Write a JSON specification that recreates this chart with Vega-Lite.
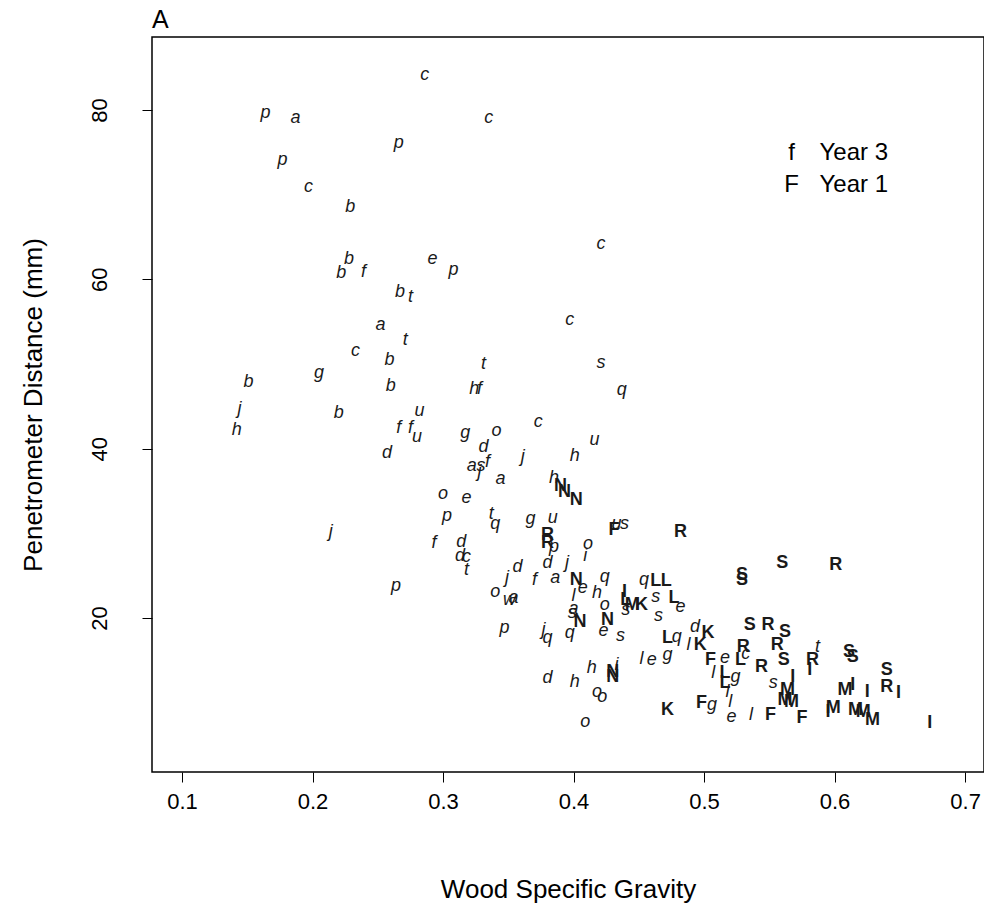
{
  "$schema": "https://vega.github.io/schema/vega-lite/v6.json",
  "autosize": {"type": "none"},
  "padding": {"left": 152, "top": 37, "right": 0, "bottom": 142},
  "width": 832,
  "height": 735,
  "background": "white",
  "title": {"text": "A", "anchor": "start", "frame": "group", "fontSize": 25, "fontWeight": "normal", "font": "Liberation Sans", "color": "black", "offset": 4},
  "config": {
    "view": {"stroke": "black", "strokeWidth": 1.5},
    "axis": {"grid": false, "domain": false, "tickColor": "black", "tickSize": 10, "tickWidth": 1, "labelFont": "Liberation Sans", "labelFontSize": 22, "labelColor": "black", "titleFont": "Liberation Sans", "titleFontSize": 26, "titleFontWeight": "normal", "titleColor": "black"}
  },
  "datasets": {
    "pts": [
      {"wsg": 0.286, "pen": 84.1, "label": "c", "year": 3},
      {"wsg": 0.164, "pen": 79.6, "label": "p", "year": 3},
      {"wsg": 0.187, "pen": 79.1, "label": "a", "year": 3},
      {"wsg": 0.335, "pen": 79.1, "label": "c", "year": 3},
      {"wsg": 0.266, "pen": 76.1, "label": "p", "year": 3},
      {"wsg": 0.177, "pen": 74.1, "label": "p", "year": 3},
      {"wsg": 0.197, "pen": 70.9, "label": "c", "year": 3},
      {"wsg": 0.229, "pen": 68.5, "label": "b", "year": 3},
      {"wsg": 0.421, "pen": 64.2, "label": "c", "year": 3},
      {"wsg": 0.228, "pen": 62.4, "label": "b", "year": 3},
      {"wsg": 0.222, "pen": 60.7, "label": "b", "year": 3},
      {"wsg": 0.239, "pen": 60.9, "label": "f", "year": 3},
      {"wsg": 0.292, "pen": 62.4, "label": "e", "year": 3},
      {"wsg": 0.308, "pen": 61.1, "label": "p", "year": 3},
      {"wsg": 0.267, "pen": 58.5, "label": "b", "year": 3},
      {"wsg": 0.275, "pen": 57.9, "label": "t", "year": 3},
      {"wsg": 0.397, "pen": 55.2, "label": "c", "year": 3},
      {"wsg": 0.252, "pen": 54.6, "label": "a", "year": 3},
      {"wsg": 0.271, "pen": 52.8, "label": "t", "year": 3},
      {"wsg": 0.233, "pen": 51.5, "label": "c", "year": 3},
      {"wsg": 0.259, "pen": 50.5, "label": "b", "year": 3},
      {"wsg": 0.331, "pen": 50.0, "label": "t", "year": 3},
      {"wsg": 0.421, "pen": 50.1, "label": "s", "year": 3},
      {"wsg": 0.205, "pen": 48.9, "label": "g", "year": 3},
      {"wsg": 0.151, "pen": 47.9, "label": "b", "year": 3},
      {"wsg": 0.260, "pen": 47.4, "label": "b", "year": 3},
      {"wsg": 0.324, "pen": 47.0, "label": "h", "year": 3},
      {"wsg": 0.328, "pen": 47.0, "label": "f", "year": 3},
      {"wsg": 0.437, "pen": 46.9, "label": "q", "year": 3},
      {"wsg": 0.144, "pen": 44.7, "label": "j", "year": 3},
      {"wsg": 0.282, "pen": 44.5, "label": "u", "year": 3},
      {"wsg": 0.220, "pen": 44.2, "label": "b", "year": 3},
      {"wsg": 0.142, "pen": 42.2, "label": "h", "year": 3},
      {"wsg": 0.266, "pen": 42.4, "label": "f", "year": 3},
      {"wsg": 0.275, "pen": 42.4, "label": "f", "year": 3},
      {"wsg": 0.280, "pen": 41.4, "label": "u", "year": 3},
      {"wsg": 0.373, "pen": 43.2, "label": "c", "year": 3},
      {"wsg": 0.317, "pen": 41.9, "label": "g", "year": 3},
      {"wsg": 0.341, "pen": 42.1, "label": "o", "year": 3},
      {"wsg": 0.416, "pen": 41.0, "label": "u", "year": 3},
      {"wsg": 0.257, "pen": 39.5, "label": "d", "year": 3},
      {"wsg": 0.331, "pen": 40.2, "label": "d", "year": 3},
      {"wsg": 0.401, "pen": 39.1, "label": "h", "year": 3},
      {"wsg": 0.361, "pen": 39.0, "label": "j", "year": 3},
      {"wsg": 0.322, "pen": 38.0, "label": "a", "year": 3},
      {"wsg": 0.329, "pen": 38.0, "label": "s", "year": 3},
      {"wsg": 0.334, "pen": 38.4, "label": "f", "year": 3},
      {"wsg": 0.328, "pen": 37.2, "label": "j", "year": 3},
      {"wsg": 0.344, "pen": 36.4, "label": "a", "year": 3},
      {"wsg": 0.385, "pen": 36.5, "label": "h", "year": 3},
      {"wsg": 0.300, "pen": 34.6, "label": "o", "year": 3},
      {"wsg": 0.318, "pen": 34.2, "label": "e", "year": 3},
      {"wsg": 0.303, "pen": 32.0, "label": "p", "year": 3},
      {"wsg": 0.337, "pen": 32.3, "label": "t", "year": 3},
      {"wsg": 0.340, "pen": 31.1, "label": "q", "year": 3},
      {"wsg": 0.367, "pen": 31.7, "label": "g", "year": 3},
      {"wsg": 0.384, "pen": 31.8, "label": "u", "year": 3},
      {"wsg": 0.214, "pen": 30.2, "label": "j", "year": 3},
      {"wsg": 0.433, "pen": 31.1, "label": "u", "year": 3},
      {"wsg": 0.439, "pen": 31.1, "label": "s", "year": 3},
      {"wsg": 0.293, "pen": 28.9, "label": "f", "year": 3},
      {"wsg": 0.314, "pen": 29.0, "label": "d", "year": 3},
      {"wsg": 0.313, "pen": 27.3, "label": "d", "year": 3},
      {"wsg": 0.318, "pen": 27.2, "label": "c", "year": 3},
      {"wsg": 0.318, "pen": 25.7, "label": "t", "year": 3},
      {"wsg": 0.385, "pen": 28.4, "label": "p", "year": 3},
      {"wsg": 0.411, "pen": 28.7, "label": "o", "year": 3},
      {"wsg": 0.409, "pen": 27.3, "label": "i", "year": 3},
      {"wsg": 0.380, "pen": 26.5, "label": "d", "year": 3},
      {"wsg": 0.395, "pen": 26.5, "label": "j", "year": 3},
      {"wsg": 0.357, "pen": 26.0, "label": "d", "year": 3},
      {"wsg": 0.349, "pen": 24.7, "label": "j", "year": 3},
      {"wsg": 0.370, "pen": 24.5, "label": "f", "year": 3},
      {"wsg": 0.386, "pen": 24.7, "label": "a", "year": 3},
      {"wsg": 0.407, "pen": 23.5, "label": "e", "year": 3},
      {"wsg": 0.424, "pen": 24.8, "label": "q", "year": 3},
      {"wsg": 0.454, "pen": 24.5, "label": "q", "year": 3},
      {"wsg": 0.418, "pen": 23.0, "label": "h", "year": 3},
      {"wsg": 0.340, "pen": 23.1, "label": "o", "year": 3},
      {"wsg": 0.351, "pen": 22.1, "label": "w", "year": 3},
      {"wsg": 0.354, "pen": 22.4, "label": "a", "year": 3},
      {"wsg": 0.400, "pen": 22.6, "label": "l", "year": 3},
      {"wsg": 0.400, "pen": 21.1, "label": "a", "year": 3},
      {"wsg": 0.424, "pen": 21.5, "label": "o", "year": 3},
      {"wsg": 0.440, "pen": 20.9, "label": "s", "year": 3},
      {"wsg": 0.463, "pen": 22.5, "label": "s", "year": 3},
      {"wsg": 0.482, "pen": 21.3, "label": "e", "year": 3},
      {"wsg": 0.465, "pen": 20.2, "label": "s", "year": 3},
      {"wsg": 0.399, "pen": 20.6, "label": "s", "year": 3},
      {"wsg": 0.423, "pen": 18.5, "label": "e", "year": 3},
      {"wsg": 0.436, "pen": 17.9, "label": "s", "year": 3},
      {"wsg": 0.347, "pen": 18.8, "label": "p", "year": 3},
      {"wsg": 0.377, "pen": 18.6, "label": "j", "year": 3},
      {"wsg": 0.380, "pen": 17.6, "label": "q", "year": 3},
      {"wsg": 0.397, "pen": 18.2, "label": "q", "year": 3},
      {"wsg": 0.264, "pen": 23.8, "label": "p", "year": 3},
      {"wsg": 0.493, "pen": 18.9, "label": "d", "year": 3},
      {"wsg": 0.479, "pen": 17.8, "label": "q", "year": 3},
      {"wsg": 0.488, "pen": 16.8, "label": "l", "year": 3},
      {"wsg": 0.452, "pen": 15.2, "label": "l", "year": 3},
      {"wsg": 0.460, "pen": 15.0, "label": "e", "year": 3},
      {"wsg": 0.472, "pen": 15.6, "label": "g", "year": 3},
      {"wsg": 0.516, "pen": 15.3, "label": "e", "year": 3},
      {"wsg": 0.532, "pen": 15.8, "label": "c", "year": 3},
      {"wsg": 0.587, "pen": 16.6, "label": "t", "year": 3},
      {"wsg": 0.507, "pen": 13.5, "label": "l", "year": 3},
      {"wsg": 0.524, "pen": 13.0, "label": "g", "year": 3},
      {"wsg": 0.518, "pen": 11.3, "label": "l", "year": 3},
      {"wsg": 0.553, "pen": 12.3, "label": "s", "year": 3},
      {"wsg": 0.506, "pen": 9.7, "label": "g", "year": 3},
      {"wsg": 0.520, "pen": 10.1, "label": "l", "year": 3},
      {"wsg": 0.521, "pen": 8.3, "label": "e", "year": 3},
      {"wsg": 0.536, "pen": 8.5, "label": "l", "year": 3},
      {"wsg": 0.380, "pen": 12.9, "label": "d", "year": 3},
      {"wsg": 0.401, "pen": 12.4, "label": "h", "year": 3},
      {"wsg": 0.414, "pen": 14.1, "label": "h", "year": 3},
      {"wsg": 0.433, "pen": 14.5, "label": "i", "year": 3},
      {"wsg": 0.418, "pen": 11.3, "label": "o", "year": 3},
      {"wsg": 0.422, "pen": 10.7, "label": "o", "year": 3},
      {"wsg": 0.409, "pen": 7.7, "label": "o", "year": 3},
      {"wsg": 0.390, "pen": 35.6, "label": "N", "year": 1},
      {"wsg": 0.393, "pen": 34.9, "label": "N", "year": 1},
      {"wsg": 0.402, "pen": 33.9, "label": "N", "year": 1},
      {"wsg": 0.380, "pen": 29.8, "label": "R", "year": 1},
      {"wsg": 0.380, "pen": 28.9, "label": "R", "year": 1},
      {"wsg": 0.431, "pen": 30.4, "label": "F", "year": 1},
      {"wsg": 0.482, "pen": 30.2, "label": "R", "year": 1},
      {"wsg": 0.402, "pen": 24.5, "label": "N", "year": 1},
      {"wsg": 0.463, "pen": 24.4, "label": "L", "year": 1},
      {"wsg": 0.471, "pen": 24.4, "label": "L", "year": 1},
      {"wsg": 0.439, "pen": 23.1, "label": "I", "year": 1},
      {"wsg": 0.440, "pen": 22.1, "label": "L", "year": 1},
      {"wsg": 0.445, "pen": 21.5, "label": "M", "year": 1},
      {"wsg": 0.452, "pen": 21.5, "label": "K", "year": 1},
      {"wsg": 0.477, "pen": 22.4, "label": "L", "year": 1},
      {"wsg": 0.405, "pen": 19.5, "label": "N", "year": 1},
      {"wsg": 0.426, "pen": 19.8, "label": "N", "year": 1},
      {"wsg": 0.560, "pen": 26.5, "label": "S", "year": 1},
      {"wsg": 0.601, "pen": 26.3, "label": "R", "year": 1},
      {"wsg": 0.529, "pen": 25.1, "label": "S", "year": 1},
      {"wsg": 0.529, "pen": 24.5, "label": "S", "year": 1},
      {"wsg": 0.503, "pen": 18.2, "label": "K", "year": 1},
      {"wsg": 0.535, "pen": 19.2, "label": "S", "year": 1},
      {"wsg": 0.549, "pen": 19.2, "label": "R", "year": 1},
      {"wsg": 0.562, "pen": 18.3, "label": "S", "year": 1},
      {"wsg": 0.472, "pen": 17.6, "label": "L", "year": 1},
      {"wsg": 0.497, "pen": 16.8, "label": "K", "year": 1},
      {"wsg": 0.530, "pen": 16.6, "label": "R", "year": 1},
      {"wsg": 0.556, "pen": 16.8, "label": "R", "year": 1},
      {"wsg": 0.505, "pen": 15.0, "label": "F", "year": 1},
      {"wsg": 0.528, "pen": 15.0, "label": "L", "year": 1},
      {"wsg": 0.544, "pen": 14.2, "label": "R", "year": 1},
      {"wsg": 0.561, "pen": 15.0, "label": "S", "year": 1},
      {"wsg": 0.583, "pen": 15.0, "label": "R", "year": 1},
      {"wsg": 0.516, "pen": 13.5, "label": "L", "year": 1},
      {"wsg": 0.516, "pen": 12.3, "label": "L", "year": 1},
      {"wsg": 0.568, "pen": 13.0, "label": "I", "year": 1},
      {"wsg": 0.581, "pen": 13.9, "label": "I", "year": 1},
      {"wsg": 0.564, "pen": 11.5, "label": "M", "year": 1},
      {"wsg": 0.562, "pen": 10.3, "label": "M", "year": 1},
      {"wsg": 0.567, "pen": 10.1, "label": "M", "year": 1},
      {"wsg": 0.472, "pen": 9.1, "label": "K", "year": 1},
      {"wsg": 0.498, "pen": 10.0, "label": "F", "year": 1},
      {"wsg": 0.551, "pen": 8.5, "label": "F", "year": 1},
      {"wsg": 0.575, "pen": 8.2, "label": "F", "year": 1},
      {"wsg": 0.599, "pen": 9.4, "label": "M", "year": 1},
      {"wsg": 0.611, "pen": 16.0, "label": "S", "year": 1},
      {"wsg": 0.614, "pen": 15.4, "label": "S", "year": 1},
      {"wsg": 0.640, "pen": 13.9, "label": "S", "year": 1},
      {"wsg": 0.640, "pen": 11.9, "label": "R", "year": 1},
      {"wsg": 0.649, "pen": 11.1, "label": "I", "year": 1},
      {"wsg": 0.625, "pen": 11.3, "label": "I", "year": 1},
      {"wsg": 0.608, "pen": 11.5, "label": "M", "year": 1},
      {"wsg": 0.614, "pen": 12.1, "label": "I", "year": 1},
      {"wsg": 0.595, "pen": 8.9, "label": "I", "year": 1},
      {"wsg": 0.616, "pen": 9.1, "label": "M", "year": 1},
      {"wsg": 0.622, "pen": 8.9, "label": "M", "year": 1},
      {"wsg": 0.629, "pen": 8.0, "label": "M", "year": 1},
      {"wsg": 0.673, "pen": 7.6, "label": "I", "year": 1},
      {"wsg": 0.430, "pen": 13.0, "label": "N", "year": 1},
      {"wsg": 0.430, "pen": 13.6, "label": "N", "year": 1}
    ],
    "legend": [
      {"wsg": 0.567, "pen": 74.9, "key": "f", "name": "Year 3"},
      {"wsg": 0.567, "pen": 71.1, "key": "F", "name": "Year 1"}
    ]
  },
  "encoding": {
    "x": {"field": "wsg", "type": "quantitative", "scale": {"domain": [0.077, 0.7145], "zero": false, "nice": false}, "axis": {"title": "Wood Specific Gravity", "values": [0.1, 0.2, 0.3, 0.4, 0.5, 0.6, 0.7], "format": ".1f", "labelPadding": 9, "titlePadding": 64}},
    "y": {"field": "pen", "type": "quantitative", "scale": {"domain": [1.82, 88.62], "zero": false, "nice": false}, "axis": {"title": "Penetrometer Distance (mm)", "values": [20, 40, 60, 80], "labelAngle": -90, "labelAlign": "center", "labelBaseline": "bottom", "labelPadding": 31, "titlePadding": 42}}
  },
  "layer": [
    {
      "data": {"name": "pts"},
      "transform": [{"filter": "datum.year == 3"}],
      "mark": {"type": "text", "font": "Liberation Sans", "fontSize": 18, "fontStyle": "italic", "color": "#1a1a1a", "baseline": "middle", "align": "center"},
      "encoding": {"text": {"field": "label"}}
    },
    {
      "data": {"name": "pts"},
      "transform": [{"filter": "datum.year == 1"}],
      "mark": {"type": "text", "font": "Liberation Sans", "fontSize": 18, "fontWeight": "bold", "color": "#1a1a1a", "baseline": "middle", "align": "center"},
      "encoding": {"text": {"field": "label"}}
    },
    {
      "data": {"name": "legend"},
      "mark": {"type": "text", "font": "Liberation Sans", "fontSize": 24, "color": "black", "baseline": "middle", "align": "center"},
      "encoding": {"text": {"field": "key"}}
    },
    {
      "data": {"name": "legend"},
      "mark": {"type": "text", "font": "Liberation Sans", "fontSize": 24, "color": "black", "baseline": "middle", "align": "left", "dx": 28},
      "encoding": {"text": {"field": "name"}}
    }
  ]
}
